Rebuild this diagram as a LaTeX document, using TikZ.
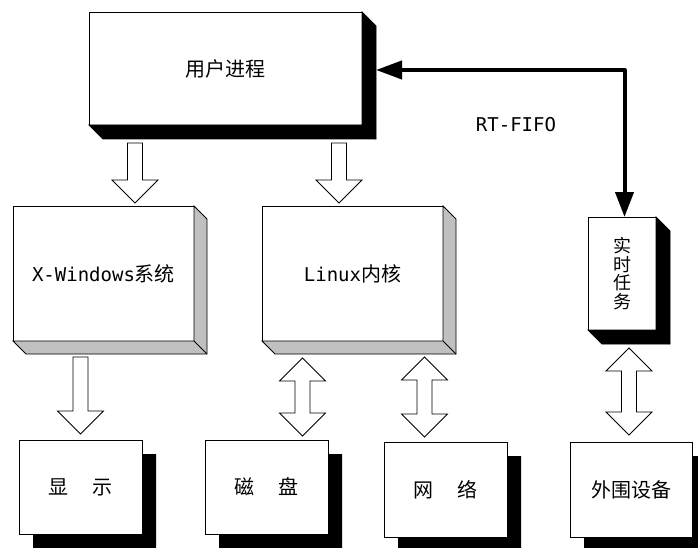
\documentclass[tikz,border=0pt]{standalone}
\usepackage{fontspec}
\usetikzlibrary{calc,arrows.meta}
\newfontfamily\cjk{Noto Sans CJK SC}
\newfontfamily\lat{DejaVu Sans Mono}
\definecolor{bevelgray}{HTML}{C0C0C0}
\tikzset{
  box/.style={draw,fill=white,line width=0.8pt,inner sep=0pt,outer sep=0pt,
    font=\cjk\fontsize{20}{24}\selectfont},
  hollow/.style={draw=black,fill=white,line width=0.8pt,line join=miter},
  fifo/.style={line width=4pt,line join=round,
    {Triangle[length=26pt,width=18pt]}-{Triangle[length=25pt,width=18pt]}},
}
% bevelled extrusion (black or grey)
\newcommand\bevelshadow[3]{% node, depth, fill
  \filldraw[fill=#3,draw=black,line width=0.8pt,line join=miter]
    (#1.south west) -- ($(#1.south west)+(#2,#2)$) -- ($(#1.south east)+(#2,#2)$)
    -- ($(#1.north east)+(#2,#2)$) -- (#1.north east) -- (#1.south east) -- cycle;
  \draw[line width=0.8pt] (#1.south east) -- ($(#1.south east)+(#2,#2)$);}
% plain offset shadow
\newcommand\dropshadow[2]{% node, offset
  \fill[black]
    ($(#1.south west)+(#2,0)$) -- ($(#1.south west)+(#2,#2)$) -- ($(#1.south east)+(#2,#2)$)
    -- ($(#1.north east)+(#2,#2)$) -- ($(#1.north east)+(0,#2)$) -- (#1.south east) -- cycle;}
% hollow down arrow: #1 top centre, #2 tip
\newcommand\hollowdown[2]{%
  \draw[hollow] ($(#1)+(-7.5,0)$) -- ($(#1)+(7.5,0)$) -- ($(#2)+(7.5,-23)$)
    -- ($(#2)+(23,-23)$) -- (#2) -- ($(#2)+(-23,-23)$) -- ($(#2)+(-7.5,-23)$) -- cycle;}
% hollow double arrow: #1 top tip, #2 bottom tip
\newcommand\hollowboth[2]{%
  \draw[hollow] (#1) -- ($(#1)+(23,23)$) -- ($(#1)+(7.5,23)$) -- ($(#2)+(7.5,-23)$)
    -- ($(#2)+(23,-23)$) -- (#2) -- ($(#2)+(-23,-23)$) -- ($(#2)+(-7.5,-23)$)
    -- ($(#1)+(-7.5,23)$) -- ($(#1)+(-23,23)$) -- cycle;}
\begin{document}
\begin{tikzpicture}[x=1pt,y=-1pt]
\useasboundingbox (0,0) rectangle (698,548);
\fill[white] (0,0) rectangle (698,548);
\begin{scope}
\clip (0,0) rectangle (698,548);
% boxes
\node[box,minimum width=273pt,minimum height=113pt] (user) at (225.5,68.5) {用户进程};
\node[box,minimum width=181pt,minimum height=135pt] (xwin) at (103.5,273.5)
  {{\lat\fontsize{19}{24}\selectfont X-Windows}系统};
\node[box,minimum width=181pt,minimum height=135pt] (linux) at (352.5,273.5)
  {{\lat\fontsize{19}{24}\selectfont Linux}内核};
\node[box,minimum width=68pt,minimum height=113pt,align=center,
  font=\cjk\fontsize{18}{18.5}\selectfont] (rt) at (622,273.5) {实\\时\\任\\务};
\node[box,minimum width=123pt,minimum height=94pt] (disp) at (80.5,487) {显\hspace{1.2em}示};
\node[box,minimum width=123pt,minimum height=94pt] (disk) at (266.5,487) {磁\hspace{1.2em}盘};
\node[box,minimum width=123pt,minimum height=95pt] (net) at (445.5,489.5) {网\hspace{1.2em}络};
\node[box,minimum width=122pt,minimum height=95pt] (peri) at (631,489.5) {外围设备};
% shadows
\bevelshadow{user}{14}{black}
\bevelshadow{rt}{14}{black}
\bevelshadow{xwin}{13}{bevelgray}
\bevelshadow{linux}{13}{bevelgray}
\dropshadow{disp}{14}
\dropshadow{disk}{14}
\dropshadow{net}{14}
\dropshadow{peri}{14}
% hollow arrows
\coordinate (a1t) at (135,143);   \coordinate (a1h) at (135,203);
\coordinate (a2t) at (339,143);   \coordinate (a2h) at (339,203);
\coordinate (a3t) at (80.5,357);  \coordinate (a3h) at (80.5,434);
\hollowdown{a1t}{a1h}
\hollowdown{a2t}{a2h}
\hollowdown{a3t}{a3h}
\coordinate (b1t) at (302.5,358); \coordinate (b1b) at (302.5,436);
\coordinate (b2t) at (424.5,357); \coordinate (b2b) at (424.5,437);
\coordinate (b3t) at (629,348);   \coordinate (b3b) at (629,435);
\hollowboth{b1t}{b1b}
\hollowboth{b2t}{b2b}
\hollowboth{b3t}{b3b}
% RT-FIFO connector
\coordinate (fifostart) at ($(user.east)+(14,1.5)$);
\coordinate (fifoend) at ($(rt.north)+(2.5,0)$);
\draw[fifo] (fifostart) -| (fifoend);
\node[font=\lat\fontsize{19}{22}\selectfont] (fifolbl) at (516,125) {RT-FIFO};
\end{scope}
\end{tikzpicture}
\end{document}
